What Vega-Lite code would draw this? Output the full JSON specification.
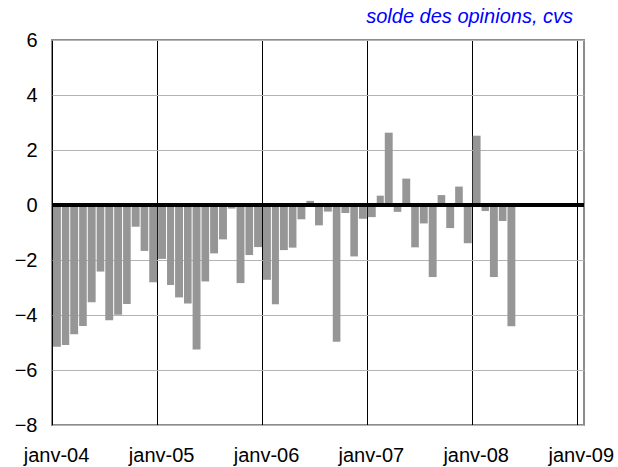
{
  "$schema": "https://vega.github.io/schema/vega-lite/v6.json",
  "width": 532,
  "height": 385,
  "autosize": {"type": "none"},
  "padding": {"left": 52, "top": 40, "right": 34, "bottom": 42},
  "background": "white",
  "config": {
    "view": {"stroke": "#8c8c8c", "strokeWidth": 2},
    "font": "Liberation Sans"
  },
  "title": {
    "text": "solde des opinions, cvs",
    "anchor": "end",
    "frame": "group",
    "color": "#0000FF",
    "fontStyle": "italic",
    "fontWeight": "normal",
    "fontSize": 20,
    "font": "Liberation Sans",
    "baseline": "alphabetic",
    "offset": 3,
    "dy": 16,
    "dx": -11
  },
  "data": {
    "values": [
      {"date": "2004-01-01", "value": -5.15},
      {"date": "2004-02-01", "value": -5.09},
      {"date": "2004-03-01", "value": -4.70},
      {"date": "2004-04-01", "value": -4.40},
      {"date": "2004-05-01", "value": -3.54},
      {"date": "2004-06-01", "value": -2.42},
      {"date": "2004-07-01", "value": -4.19},
      {"date": "2004-08-01", "value": -3.99},
      {"date": "2004-09-01", "value": -3.60},
      {"date": "2004-10-01", "value": -0.79},
      {"date": "2004-11-01", "value": -1.67},
      {"date": "2004-12-01", "value": -2.81},
      {"date": "2005-01-01", "value": -1.96},
      {"date": "2005-02-01", "value": -2.91},
      {"date": "2005-03-01", "value": -3.36},
      {"date": "2005-04-01", "value": -3.58},
      {"date": "2005-05-01", "value": -5.25},
      {"date": "2005-06-01", "value": -2.78},
      {"date": "2005-07-01", "value": -1.76},
      {"date": "2005-08-01", "value": -1.25},
      {"date": "2005-09-01", "value": -0.13},
      {"date": "2005-10-01", "value": -2.84},
      {"date": "2005-11-01", "value": -1.82},
      {"date": "2005-12-01", "value": -1.53},
      {"date": "2006-01-01", "value": -2.72},
      {"date": "2006-02-01", "value": -3.61},
      {"date": "2006-03-01", "value": -1.64},
      {"date": "2006-04-01", "value": -1.55},
      {"date": "2006-05-01", "value": -0.52},
      {"date": "2006-06-01", "value": 0.15},
      {"date": "2006-07-01", "value": -0.74},
      {"date": "2006-08-01", "value": -0.24},
      {"date": "2006-09-01", "value": -4.97},
      {"date": "2006-10-01", "value": -0.29},
      {"date": "2006-11-01", "value": -1.87},
      {"date": "2006-12-01", "value": -0.50},
      {"date": "2007-01-01", "value": -0.44},
      {"date": "2007-02-01", "value": 0.34},
      {"date": "2007-03-01", "value": 2.63},
      {"date": "2007-04-01", "value": -0.25},
      {"date": "2007-05-01", "value": 0.96},
      {"date": "2007-06-01", "value": -1.54},
      {"date": "2007-07-01", "value": -0.67},
      {"date": "2007-08-01", "value": -2.62},
      {"date": "2007-09-01", "value": 0.36},
      {"date": "2007-10-01", "value": -0.84},
      {"date": "2007-11-01", "value": 0.67},
      {"date": "2007-12-01", "value": -1.39},
      {"date": "2008-01-01", "value": 2.52},
      {"date": "2008-02-01", "value": -0.22},
      {"date": "2008-03-01", "value": -2.62},
      {"date": "2008-04-01", "value": -0.58},
      {"date": "2008-05-01", "value": -4.41}
    ]
  },
  "layer": [
    {
      "mark": {"type": "bar", "color": "#969696", "timeUnitBandSize": 0.84},
      "encoding": {
        "x": {
          "field": "date",
          "type": "temporal",
          "timeUnit": "utcyearmonth",
          "scale": {
            "type": "utc",
            "domain": [
              {"year": 2004, "month": 1, "date": 1, "utc": true},
              {"year": 2009, "month": 1, "date": 26, "utc": true}
            ]
          },
          "axis": {
            "title": null,
            "values": [
              {"year": 2004, "month": 1, "date": 1, "utc": true},
              {"year": 2005, "month": 1, "date": 1, "utc": true},
              {"year": 2006, "month": 1, "date": 1, "utc": true},
              {"year": 2007, "month": 1, "date": 1, "utc": true},
              {"year": 2008, "month": 1, "date": 1, "utc": true},
              {"year": 2009, "month": 1, "date": 1, "utc": true}
            ],
            "labelExpr": "'janv-' + utcFormat(datum.value, '%y')",
            "labelFontSize": 20,
            "labelColor": "black",
            "labelPadding": 20,
            "labelOffset": 4,
            "labelFlush": false,
            "labelOverlap": false,
            "ticks": false,
            "domain": false,
            "grid": true,
            "gridColor": "black",
            "gridWidth": 1,
            "gridOpacity": 1
          }
        },
        "y": {
          "field": "value",
          "type": "quantitative",
          "scale": {"domain": [-8, 6], "nice": false},
          "axis": {
            "title": null,
            "values": [-8, -6, -4, -2, 0, 2, 4, 6],
            "labelFontSize": 20,
            "labelColor": "black",
            "labelPadding": 15,
            "ticks": false,
            "domain": false,
            "grid": true,
            "gridColor": "#b4b4b4",
            "gridWidth": 1,
            "gridOpacity": 1
          }
        }
      }
    },
    {
      "mark": {"type": "rule", "color": "black", "strokeWidth": 2.5},
      "encoding": {"y": {"datum": 0}}
    }
  ]
}
